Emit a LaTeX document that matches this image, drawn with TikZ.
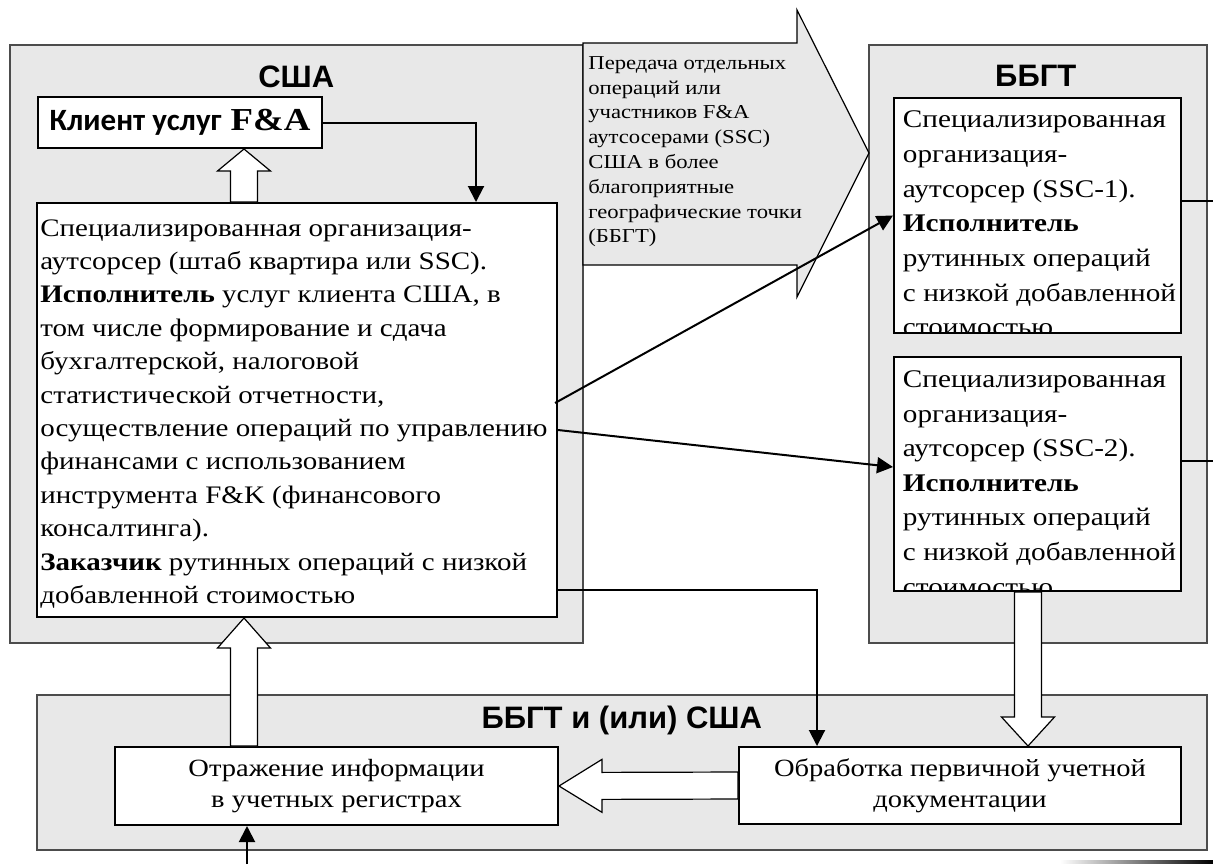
\documentclass[tikz,border=0pt]{standalone}
\usepackage{fontspec}
\setmainfont{Liberation Serif}[FakeStretch=1.15]
\newfontfamily\headfont{Liberation Sans}
\newfontfamily\clientfont{Carlito}
\usetikzlibrary{calc,arrows.meta}
\def\hollowarrow[#1](#2)(#3){\draw[hollow] ($(#2)!6.75pt!90:(#3)$) -- ($(#3)!#1!(#2)!6.75pt!-90:(#2)$) -- ($(#3)!#1!(#2)!13.25pt!-90:(#2)$) -- (#3) -- ($(#3)!#1!(#2)!13.25pt!90:(#2)$) -- ($(#3)!#1!(#2)!6.75pt!90:(#2)$) -- ($(#2)!6.75pt!-90:(#3)$) -- cycle;}
\tikzset{
  grp/.style={draw=black!70, line width=0.75pt, fill=black!9, inner sep=0pt, anchor=north west},
  wbox/.style={draw=black, line width=1pt, fill=white, inner sep=0pt, anchor=north west},
  hollow/.style={draw=black, line width=0.6pt, fill=white},
  conn/.style={line width=1pt, -{Triangle[length=8pt,width=8pt]}},
  wire/.style={line width=1pt},
  head/.style={font=\headfont\bfseries\fontsize{15.5}{18}\selectfont, inner sep=0pt},
  bodytxt/.style={font=\fontsize{12.6}{16.7}\selectfont, align=left, anchor=north west, inner sep=0pt},
  ssctxt/.style={font=\fontsize{12.7}{17.3}\selectfont, align=left, anchor=north west, inner sep=0pt},
  arrtxt/.style={font=\fontsize{9.85}{12.4}\selectfont, align=left, anchor=north west, inner sep=0pt},
  lowtxt/.style={font=\fontsize{12.4}{15.5}\selectfont, align=center}
}
\begin{document}
\begin{tikzpicture}[x=0.5pt,y=-0.5pt]
			%%%%% START %%%%%
			\useasboundingbox (0,0) rectangle (1213,864);
			
			\node[grp, minimum width=286.5pt, minimum height=299pt] (usaGrp) at (9,44) {};
			\node[grp, minimum width=169pt, minimum height=299pt] (bbgtGrp) at (868,44) {};
			\node[grp, minimum width=585pt, minimum height=77.5pt] (lowGrp) at (36,694) {};
			
			\node[head] (usaHead) at ($(usaGrp.north)+(0,33)$) {США};
			\node[head] (bbgtHead) at ($(bbgtGrp.north)+(-2,32)$) {ББГТ};
			\node[head] (lowHead) at ($(lowGrp.north)+(0,26)$) {ББГТ и (или) США};
			
			% big transfer arrow
			\draw[fill=black!9, line width=0.6pt] (583,43) -- (797,43) -- (797,10) -- (869,153) -- (797,297) -- (797,265) -- (583,265) -- cycle;
			\node[arrtxt] (transferTxt) at (588,56) {Передача отдельных\\операций или\\участников F\&A\\аутсосерами (SSC)\\США в более\\благоприятные\\географические точки\\(ББГТ)};
			
			\node[wbox, minimum width=142pt, minimum height=25.5pt, font=\fontsize{15.5}{18}\selectfont] (clientBox) at (37,96) {{\clientfont\bfseries Клиент услуг} {\fontsize{16}{18}\selectfont\bfseries F\&A}};
			
			\node[wbox, minimum width=260pt, minimum height=207pt] (mainBox) at (36,202) {};
			\node[bodytxt] (mainTxt) at ($(mainBox.north west)+(4,17)$) {Специализированная организация-\\аутсорсер (штаб квартира или SSC).\\\textbf{Исполнитель} услуг клиента США, в\\том числе формирование и сдача\\бухгалтерской, налоговой\\статистической отчетности,\\осуществление операций по управлению\\финансами с использованием\\инструмента F\&K (финансового\\консалтинга).\\\textbf{Заказчик} рутинных операций с низкой\\добавленной стоимостью};
			
			\node[wbox, minimum width=143.5pt, minimum height=117.5pt, path picture={\node[ssctxt] (ssc1Txt) at ($(path picture bounding box.north west)+(0.5pt,-3.5pt)$) {Специализированная\\организация-\\аутсорсер (SSC-1).\\\textbf{Исполнитель}\\рутинных операций\\с низкой добавленной\\стоимостью};}] (ssc1) at (893,97) {};
			\node[wbox, minimum width=143.5pt, minimum height=117pt, path picture={\node[ssctxt] (ssc2Txt) at ($(path picture bounding box.north west)+(0.5pt,-4pt)$) {Специализированная\\организация-\\аутсорсер (SSC-2).\\\textbf{Исполнитель}\\рутинных операций\\с низкой добавленной\\стоимостью};}] (ssc2) at (893,356) {};
			
			\node[wbox, lowtxt, minimum width=221.5pt, minimum height=39pt] (reflBox) at (114,746) {Отражение информации\\в учетных регистрах};
			\node[wbox, lowtxt, minimum width=221pt, minimum height=38.5pt] (procBox) at (738,746) {Обработка первичной учетной\\документации};
			
			% hollow arrows
			\coordinate (clientUpA) at ($(mainBox.north west)+(208,0)$);
			\coordinate (clientUpB) at ($(clientBox.south west)+(207,0)$);
			\hollowarrow[11pt](clientUpA)(clientUpB)
			\coordinate (reflUpA) at ($(reflBox.north west)+(130,0)$);
			\coordinate (reflUpB) at ($(mainBox.south west)+(208,0)$);
			\hollowarrow[15pt](reflUpA)(reflUpB)
			\coordinate (sscDownA) at ($(ssc2.south west)+(135,0)$);
			\coordinate (sscDownB) at ($(procBox.north west)+(290,0)$);
			\hollowarrow[14.5pt](sscDownA)(sscDownB)
			\hollowarrow[21.5pt](procBox.west)(reflBox.east)
			
			% connectors
			\draw[conn] (clientBox.east) -| ($(mainBox.north west)+(440,0)$);
			\draw[conn] ($(mainBox.north east)+(-3,201)$) -- (ssc1.west);
			\draw[conn] ($(mainBox.north east)+(0,228)$) -- ($(ssc2.north west)+(0,111)$);
			\draw[conn] ($(mainBox.north east)+(0,388)$) -| ($(procBox.north west)+(79,0)$);
			\coordinate (inBottom) at (247,864);
			\draw[conn] (inBottom) -- ($(reflBox.south west)+(133,0)$);
			\coordinate (outA) at (1213,201);
			\coordinate (outB) at (1213,461);
			\draw[wire] ($(ssc1.north east)+(0,104)$) -- (outA);
			\draw[wire] ($(ssc2.north east)+(0,105)$) -- (outB);
			\shade[left color=white, right color=black] (1060,860.5) rectangle (1213,863.5);
			
			%%%%% END %%%%%
\end{tikzpicture}
\end{document}
